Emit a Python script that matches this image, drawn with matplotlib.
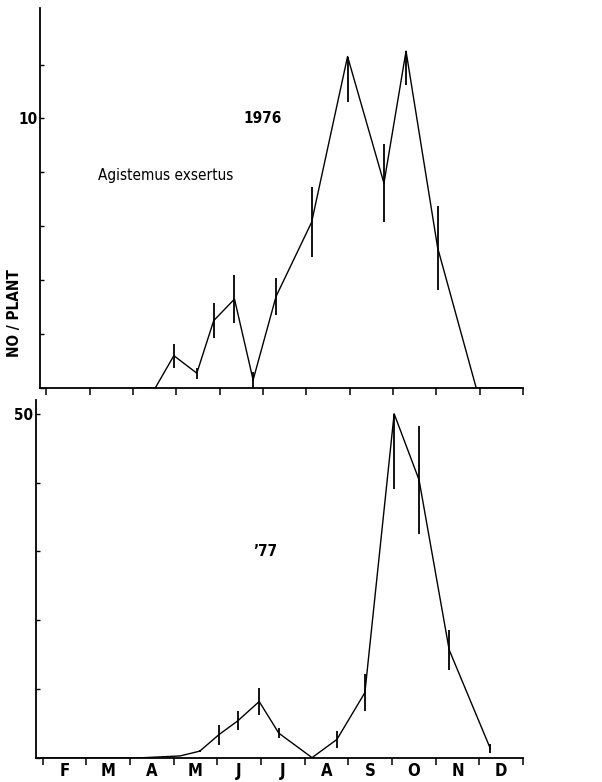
import matplotlib
matplotlib.use("Agg")
import matplotlib.pyplot as plt

plt.rcParams["font.family"] = ["DejaVu Sans"]
plt.rcParams["font.stretch"] = "condensed"

# month axis: 1 = start of Feb, 12 = end of Dec
month_labels = ["F", "M", "A", "M", "J", "J", "A", "S", "O", "N", "D"]

# 1976
x76 = [3.09, 3.51, 3.94, 4.47, 4.86, 5.34, 5.77, 6.30, 7.12, 7.95, 8.79, 9.30, 10.03, 10.92, 11.93]
y76 = [0.0, 0.0, 1.2, 0.55, 2.5, 3.3, 0.3, 3.4, 6.15, 12.3, 7.6, 12.5, 5.2, 0.0, 0.0]
lo76 = [0, 0, 0.45, 0.2, 0.65, 0.9, 0.3, 0.7, 1.3, 1.7, 1.45, 1.25, 1.55, 0, 0]
hi76 = [0, 0, 0.45, 0.2, 0.65, 0.9, 0.3, 0.7, 1.3, 0.0, 1.45, 0.0, 1.55, 0, 0]

# 1977
x77 = [0.85, 3.16, 4.15, 4.60, 5.04, 5.47, 5.96, 6.41, 7.17, 7.74, 8.38, 9.05, 9.62, 10.31, 11.25]
y77 = [0.0, 0.0, 0.3, 1.0, 3.4, 5.4, 8.2, 3.6, 0.05, 2.7, 9.5, 50.0, 40.4, 15.7, 1.4]
lo77 = [0, 0, 0, 0.2, 1.45, 1.4, 1.9, 0.7, 0, 1.2, 2.7, 10.9, 7.8, 2.9, 0.7]
hi77 = [0, 0, 0, 0.2, 1.45, 1.4, 1.9, 0.7, 0, 1.2, 2.7, 0.0, 7.8, 2.9, 0.7]

W, H = 602, 782
fig = plt.figure(figsize=(W / 100, H / 100), dpi=100)


def px_axes(left, top, right, bottom):
    return fig.add_axes([left / W, 1 - bottom / H, (right - left) / W, (bottom - top) / H])


def style(ax, ymax, yticks, labels):
    ax.set_xlim(0.85, 11.93)
    ax.set_ylim(0, ymax)
    for s in ["top", "right"]:
        ax.spines[s].set_visible(False)
    for s in ["left", "bottom"]:
        ax.spines[s].set_linewidth(1.3)
    ax.set_xticks(range(1, 13))
    ax.set_xticklabels([])
    ax.tick_params(axis="x", direction="out", length=5, width=1.1)
    ax.set_yticks(yticks)
    ax.set_yticklabels(labels, fontweight="bold", fontsize=11)
    ax.tick_params(axis="y", direction="in", length=3, width=1.0, pad=2)


ax1 = px_axes(40, 8, 523, 388)
ax1.errorbar(x76, y76, yerr=[lo76, hi76], color="black", lw=1.0, elinewidth=1.3, capsize=0)
style(ax1, 14.1, [0, 2, 4, 6, 8, 10, 12], ["", "", "", "", "", "10", ""])
ax1.text(6.0, 10.0, "1976", fontsize=11, fontweight="bold", ha="center", va="center")
ax1.text(3.75, 7.9, "Agistemus exsertus", fontsize=11, ha="center", va="center")

ax2 = px_axes(36, 400, 523, 758)
ax2.errorbar(x77, y77, yerr=[lo77, hi77], color="black", lw=1.0, elinewidth=1.3, capsize=0)
style(ax2, 52.0, [0, 10, 20, 30, 40, 50], ["", "", "", "", "", "50"])
ax2.set_xticks([k + 0.5 for k in range(1, 12)], minor=True)
ax2.set_xticklabels(month_labels, minor=True, fontsize=12, fontweight="bold")
ax2.tick_params(axis="x", which="minor", length=0, pad=3)
ax2.text(6.1, 30.0, "\u201977", fontsize=11, fontweight="bold", ha="center", va="center")

fig.text(15 / W, 1 - 313 / H, "NO / PLANT", rotation=90, fontsize=11, fontweight="bold",
         ha="center", va="center")

fig.savefig("out.png", dpi=100)
